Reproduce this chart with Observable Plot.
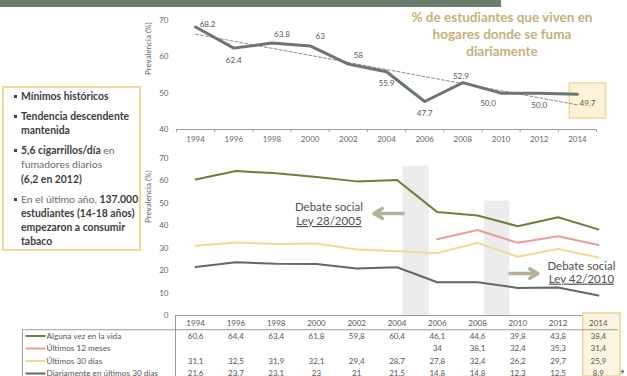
<!DOCTYPE html>
<html><head><meta charset="utf-8">
<script src="https://cdn.jsdelivr.net/npm/d3@7"></script>
<script src="https://cdn.jsdelivr.net/npm/@observablehq/plot@0.6"></script>
<style>
body{margin:0;background:#fff;font-family:Lato,"Open Sans",sans-serif;}
#wrap{position:relative;width:627px;height:376px;overflow:hidden;background:#fff;}
#wrap svg{position:absolute;left:0;top:0;}
#banner{position:absolute;left:0;top:0;width:501px;height:7px;background:#6b7d6f;}
#title{position:absolute;left:400px;top:9px;width:204px;text-align:center;font:bold 13.5px/17px Lato,sans-serif;color:#c6b07a;white-space:nowrap;}
#box{position:absolute;left:2px;top:86px;width:139px;height:165px;border:2px solid #f1d999;box-sizing:border-box;padding:1px 0 0 17px;font:10.4px/14.3px Lato,sans-serif;color:#6a6a6a;white-space:nowrap;}
#box p{margin:0 0 5.6px 0;position:relative;}
#box p::before{content:"";position:absolute;left:-7px;top:6px;width:3px;height:3px;background:#444;}
#box b{color:#3c3c3c;}
</style></head>
<body><div id="wrap">
<div id="banner"></div>
<div id="title">% de estudiantes que viven en<br>hogares donde se fuma<br>diariamente</div>
<div id="box">
<p><b>Mínimos históricos</b></p>
<p><b>Tendencia descendente<br>mantenida</b></p>
<p><b>5,6 cigarrillos/día</b> en<br>fumadores diarios<br><b>(6,2 en 2012)</b></p>
<p>En el último año, <b>137.000<br>estudiantes (14-18 años)<br>empezaron a consumir<br>tabaco</b></p>
</div>
</div>
<script>
// ---- data ----
const years = [1994,1996,1998,2000,2002,2004,2006,2008,2010,2012,2014];
const yearBoundaries = [1993,1995,1997,1999,2001,2003,2005,2007,2009,2011,2013,2015];
const hogaresFuma = [68.2,62.4,63.8,63,58,55.9,47.7,52.9,50.0,50.0,49.7];
const hogaresLabels = ["68.2","62.4","63.8","63","58","55.9","47.7","52.9","50.0","50.0","49.7"];
const hogaresLabelSide = ["e","s","ne","ne","ne","s","s","n","sw","s","se"];
const topTicks = [40,50,60,70];
const bottomTicks = [0,10,20,30,40,50,60,70];

const seriesNames = ["Alguna vez en la vida","Últimos 12 meses","Últimos 30 días","Diariamente en últimos 30 días"];
const alguna = [60.6,64.4,63.4,61.8,59.8,60.4,46.1,44.6,39.8,43.8,38.4];
const meses12 = [null,null,null,null,null,null,34,38.1,32.4,35.3,31.4];
const dias30 = [31.1,32.5,31.9,32.1,29.4,28.7,27.8,32.4,26.2,29.7,25.9];
const diario = [21.6,23.7,23.1,23,21,21.5,14.8,14.8,12.3,12.5,8.9];
const seriesColors = ["#737b3b","#e89c9c","#f3d88f","#5e6a64"];

const debateBands = [{x1:2004.3,x2:2005.6,top:66.5},{x1:2008.35,x2:2009.6,top:51}];
const debateArrows = [{from:2004.3,to:2002.85,y:45.5},{from:2009.6,to:2011.0,y:18.7}];
const debateNotes = [
  {x:2000.62,y:48.3,text:"Debate social"},
  {x:2000.62,y:42.0,text:"Ley 28/2005"},
  {x:2013.16,y:22.0,text:"Debate social"},
  {x:2013.16,y:16.3,text:"Ley 42/2010"}
];

// ---- top chart ----
const topData = years.map((year,i)=>({year,value:hogaresFuma[i],label:hogaresLabels[i],side:hogaresLabelSide[i]}));
const sideOffsets = {e:[12,-3],ne:[10,-9],n:[-2,-6],s:[0,12],sw:[-13,10],se:[10,9]};
const wrap = document.getElementById("wrap");
const baseStyle = {fontFamily:"Lato, sans-serif",fontSize:"8px",color:"#5a5a5a",background:"transparent",overflow:"visible"};

const topPlot = Plot.plot({
  width:627,height:376,marginLeft:176,marginRight:31,marginTop:20,marginBottom:247,
  style:baseStyle,
  x:{domain:[1993,2015]},
  y:{domain:[40,70]},
  marks:[
    Plot.rect(topData.filter(d=>d.year===2014),{x1:d=>d.year-0.4,x2:d=>d.year+1.5,y1:d=>d.value-6.7,y2:d=>d.value+3,fill:"#fcf2da",stroke:"#f0d99c",strokeWidth:1.5}),
    Plot.ruleY([40],{stroke:"#9a9a9a"}),
    Plot.axisX({ticks:yearBoundaries,tickSize:3,tickFormat:()=>"",stroke:"#9a9a9a"}),
    Plot.axisX({ticks:years,tickSize:0,tickPadding:7,tickFormat:"d",fill:"#666"}),
    Plot.axisY({ticks:topTicks,tickSize:0,tickPadding:8,label:null,fill:"#666"}),
    Plot.text(["Prevalencia (%)"],{frameAnchor:"left",rotate:-90,dx:-28,fill:"#666",fontSize:8}),
    Plot.linearRegressionY(topData,{x:"year",y:"value",ci:0,stroke:"#8a8a8a",strokeWidth:1,strokeDasharray:"3,2"}),
    Plot.line(topData,{x:"year",y:"value",stroke:"#6c7671",strokeWidth:3}),
    ...Object.entries(sideOffsets).map(([k,[dx,dy]])=>Plot.text(topData.filter(d=>d.side===k),{x:"year",y:"value",text:"label",dx,dy,fill:"#555",fontSize:8}))
  ]
});
wrap.appendChild(topPlot);

// ---- bottom chart ----
const seriesValues = [alguna,meses12,dias30,diario];
const long = [];
seriesNames.forEach((name,s)=>years.forEach((year,i)=>long.push({series:name,year,value:seriesValues[s][i]})));

const bottomPlot = Plot.plot({
  width:627,height:376,marginLeft:175,marginRight:9,marginTop:158,marginBottom:61,
  style:baseStyle,
  x:{domain:[1993,2015],axis:null},
  y:{domain:[0,70]},
  color:{domain:seriesNames,range:seriesColors},
  marks:[
    Plot.rect(debateBands,{x1:"x1",x2:"x2",y1:0,y2:"top",fill:"#ececec"}),
    Plot.ruleY([0],{stroke:"#9a9a9a"}),
    Plot.axisY({ticks:bottomTicks,tickSize:0,tickPadding:7,label:null,fill:"#666"}),
    Plot.text(["Prevalencia (%)"],{frameAnchor:"left",rotate:-90,dx:-27,dy:-14,fill:"#666",fontSize:8}),
    Plot.line(long,{x:"year",y:"value",z:"series",stroke:"series",strokeWidth:2}),
    Plot.arrow(debateArrows,{x1:"from",x2:"to",y1:"y",y2:"y",stroke:"#b4b19a",strokeWidth:3.5,headLength:9}),
    Plot.text(debateNotes,{x:"x",y:"y",text:"text",fill:"#505050",fontSize:11.5})
  ]
});
wrap.appendChild(bottomPlot);
d3.select(bottomPlot).selectAll("text").filter(function(){return this.textContent.startsWith("Ley");}).style("text-decoration","underline");

// ---- table ----
const fmt = v => v==null ? "" : String(v).replace(".",",");
const cells = [];
seriesValues.forEach((vals,s)=>years.forEach((year,i)=>cells.push({year,row:s+1,label:fmt(vals[i])})));
const lineSymbol = {draw(ctx){ctx.moveTo(-10,0);ctx.lineTo(10,0);}};

const tablePlot = Plot.plot({
  width:627,height:376,marginLeft:22,marginRight:9,marginTop:313,marginBottom:0,
  style:baseStyle,
  x:{domain:[1993,2015],range:[175,618],axis:null},
  y:{domain:[0,4],range:[323,373],axis:null},
  marks:[
    Plot.rect([2014],{x1:d=>d-0.75,x2:d=>d+1.1,fill:"#fdf5e1",stroke:"#ecd496",strokeWidth:1.5}),
    Plot.ruleY([0.5],{stroke:"#9a9a9a"}),
    Plot.ruleX([1993],{y1:-0.55,y2:4.8,stroke:"#9a9a9a"}),
    Plot.ruleX([1993],{y1:0.5,y2:4.8,dx:-153,stroke:"#9a9a9a"}),
    Plot.text(years,{x:d=>d,y:()=>0,text:d=>String(d),fill:"#555",fontSize:8}),
    Plot.text(cells,{x:"year",y:"row",text:"label",fill:"#555",fontSize:8}),
    Plot.dot(seriesNames,{frameAnchor:"left",y:(d,i)=>i+1,dx:13,symbol:lineSymbol,r:2,fill:"none",stroke:(d,i)=>seriesColors[i],strokeWidth:2}),
    Plot.text(seriesNames,{frameAnchor:"left",y:(d,i)=>i+1,dx:24,textAnchor:"start",fill:"#555",fontSize:8.2})
  ]
});
wrap.appendChild(tablePlot);
</script>
</body></html>
